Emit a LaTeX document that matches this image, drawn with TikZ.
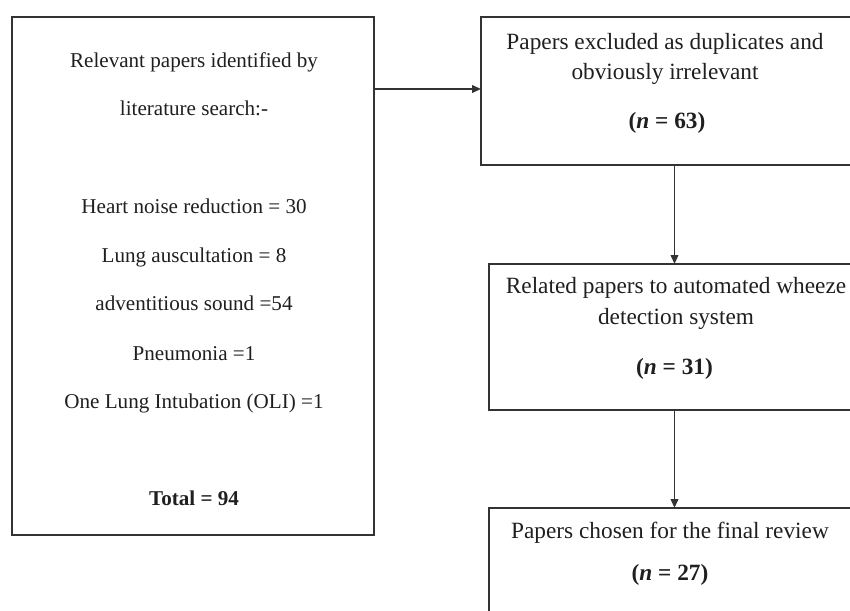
\documentclass[tikz,border=0pt]{standalone}
\usepackage{fontspec}
\setmainfont{Liberation Serif}
\usepackage{tikz}
\usetikzlibrary{positioning}
\usetikzlibrary{arrows.meta}

\tikzset{
  caja/.style={draw=black!80, line width=0.7pt, inner sep=0pt, outer sep=0pt},
  cajagrande/.style={caja, line width=1.3pt},
  txt/.style={anchor=base, text=black!88, inner sep=0pt, font=\fontsize{11.65}{14}\selectfont},
  txtiz/.style={txt, font=\fontsize{10.55}{13}\selectfont},
  flecha/.style={draw=black!80, line width=0.9pt, -{Triangle[length=4.5pt,width=3.8pt]}}
}

\begin{document}
\begin{tikzpicture}[x=0.5pt, y=-0.5pt]
  \clip (0,0) rectangle (850,610);

  % Caja de la izquierda
  \node[cajagrande, minimum width=181pt, minimum height=259pt] (busq) at (193,276) {};

  % Cajas de la derecha (una debajo de otra)
  \node[caja, minimum width=189.5pt, minimum height=74pt] (dupl) at (670.5,91) {};
  \node[caja, minimum width=185.5pt, minimum height=73pt, below=49.5pt of dupl, xshift=2pt] (rel) {};
  \node[caja, minimum width=185.5pt, minimum height=66pt, below=49pt of rel] (final) {};

  % Textos de la izquierda
  \node[txtiz] (b1) at (194,68) {Relevant papers identified by};
  \node[txtiz] (b2) at (194,116) {literature search:-};
  \node[txtiz] (b3) at (194,213) {Heart noise reduction = 30};
  \node[txtiz] (b4) at (194,262) {Lung auscultation = 8};
  \node[txtiz] (b5) at (194,310) {adventitious sound =54};
  \node[txtiz] (b6) at (194,360) {Pneumonia =1};
  \node[txtiz] (b7) at (194,408) {One Lung Intubation (OLI) =1};
  \node[txtiz] (b8) at (194,505) {\textbf{Total = 94}};

  % Textos de la derecha
  \node[txt] (d1) at (665,50) {Papers excluded as duplicates and};
  \node[txt] (d2) at (665,80) {obviously irrelevant};
  \node[txt] (d3) at (667,128) {\textbf{(\textit{n} = 63)}};
  \node[txt] (r1) at (676,293) {Related papers to automated wheeze};
  \node[txt] (r2) at (676,324) {detection system};
  \node[txt] (r3) at (674.5,374) {\textbf{(\textit{n} = 31)}};
  \node[txt] (f1) at (670,538) {Papers chosen for the final review};
  \node[txt] (f2) at (670,580) {\textbf{(\textit{n} = 27)}};

  % Conexiones
  \draw[flecha] ([yshift=1pt]busq.east |- dupl.west) -- ([yshift=1pt]dupl.west);
  \draw[flecha] (dupl.south -| rel.north) -- (rel.north);
  \draw[flecha] (rel.south) -- (final.north);
\end{tikzpicture}
\end{document}
